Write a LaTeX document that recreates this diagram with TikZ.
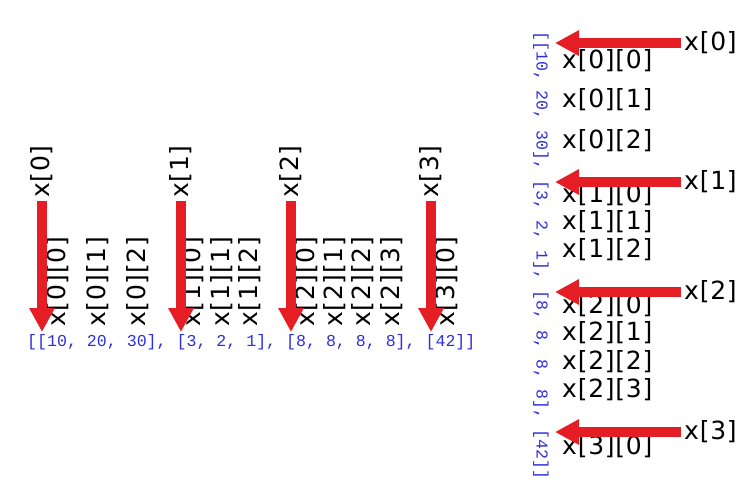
\documentclass[tikz,border=0pt]{standalone}
\usepackage{fontspec}
\setmainfont{DejaVu Sans}
\newfontfamily\labelfont[LetterSpace=3]{DejaVu Sans}
\newfontfamily\codefont{Liberation Mono}
\usetikzlibrary{arrows.meta}
\definecolor{arrowred}{RGB}{228,30,36}
\definecolor{codeblue}{RGB}{45,45,225}
\tikzset{
  lbl/.style={font=\labelfont\fontsize{25}{30}\selectfont,inner sep=0pt},
  head/.style={font=\labelfont\fontsize{25}{30}\selectfont,inner sep=3pt},
  code/.style={font=\codefont\fontsize{16.6}{20}\selectfont,text=codeblue,inner sep=0pt},
  bigarrow/.style={draw=arrowred,line width=9.5pt,-{Triangle[width=24pt,length=24pt]}}
}
\begin{document}
\begin{tikzpicture}[x=1pt,y=-1pt]
\useasboundingbox (0,0) rectangle (750,493);

% Horizontal list
\node[code,anchor=west] (hlist) at (27,342) {[[10, 20, 30], [3, 2, 1], [8, 8, 8, 8], [42]]};

% Element labels (bottom row)
\node[lbl,rotate=90,anchor=west] (h00) at (58,327) {x[0][0]};
\node[lbl,rotate=90,anchor=west] (h01) at (98,327) {x[0][1]};
\node[lbl,rotate=90,anchor=west] (h02) at (138,327) {x[0][2]};
\node[lbl,rotate=90,anchor=west] (h10) at (193,327) {x[1][0]};
\node[lbl,rotate=90,anchor=west] (h11) at (222,327) {x[1][1]};
\node[lbl,rotate=90,anchor=west] (h12) at (250,327) {x[1][2]};
\node[lbl,rotate=90,anchor=west] (h20) at (307,327) {x[2][0]};
\node[lbl,rotate=90,anchor=west] (h21) at (335,327) {x[2][1]};
\node[lbl,rotate=90,anchor=west] (h22) at (363,327) {x[2][2]};
\node[lbl,rotate=90,anchor=west] (h23) at (392,327) {x[2][3]};
\node[lbl,rotate=90,anchor=west] (h30) at (447,327) {x[3][0]};

% Sublist labels and arrows
\node[head,rotate=90,anchor=west] (hx0) at (42,201) {x[0]};
\node[head,rotate=90,anchor=west] (hx1) at (181,201) {x[1]};
\node[head,rotate=90,anchor=west] (hx2) at (291,201) {x[2]};
\node[head,rotate=90,anchor=west] (hx3) at (431,201) {x[3]};
\coordinate (ht0) at (42,332);
\coordinate (ht1) at (181,332);
\coordinate (ht2) at (291,332);
\coordinate (ht3) at (431,332);
\draw[bigarrow] (hx0) -- (ht0);
\draw[bigarrow] (hx1) -- (ht1);
\draw[bigarrow] (hx2) -- (ht2);
\draw[bigarrow] (hx3) -- (ht3);

% Vertical list
\node[code,rotate=-90,anchor=west] (vlist) at (541,31) {[[10, 20, 30], [3, 2, 1], [8, 8, 8, 8], [42]]};

% Element labels (right column)
\node[lbl,anchor=west] (v00) at (562,61) {x[0][0]};
\node[lbl,anchor=west] (v01) at (562,100) {x[0][1]};
\node[lbl,anchor=west] (v02) at (562,141) {x[0][2]};
\node[lbl,anchor=west] (v10) at (562,195) {x[1][0]};
\node[lbl,anchor=west] (v11) at (562,222) {x[1][1]};
\node[lbl,anchor=west] (v12) at (562,250) {x[1][2]};
\node[lbl,anchor=west] (v20) at (562,306) {x[2][0]};
\node[lbl,anchor=west] (v21) at (562,333) {x[2][1]};
\node[lbl,anchor=west] (v22) at (562,362) {x[2][2]};
\node[lbl,anchor=west] (v23) at (562,390) {x[2][3]};
\node[lbl,anchor=west] (v30) at (562,447) {x[3][0]};

% Sublist labels and arrows
\node[head,anchor=west] (vx0) at (681,43) {x[0]};
\node[head,anchor=west] (vx1) at (681,182) {x[1]};
\node[head,anchor=west] (vx2) at (681,292) {x[2]};
\node[head,anchor=west] (vx3) at (681,432) {x[3]};
\coordinate (vt0) at (555,43);
\coordinate (vt1) at (555,182);
\coordinate (vt2) at (555,292);
\coordinate (vt3) at (555,432);
\draw[bigarrow] (vx0) -- (vt0);
\draw[bigarrow] (vx1) -- (vt1);
\draw[bigarrow] (vx2) -- (vt2);
\draw[bigarrow] (vx3) -- (vt3);

\end{tikzpicture}
\end{document}
